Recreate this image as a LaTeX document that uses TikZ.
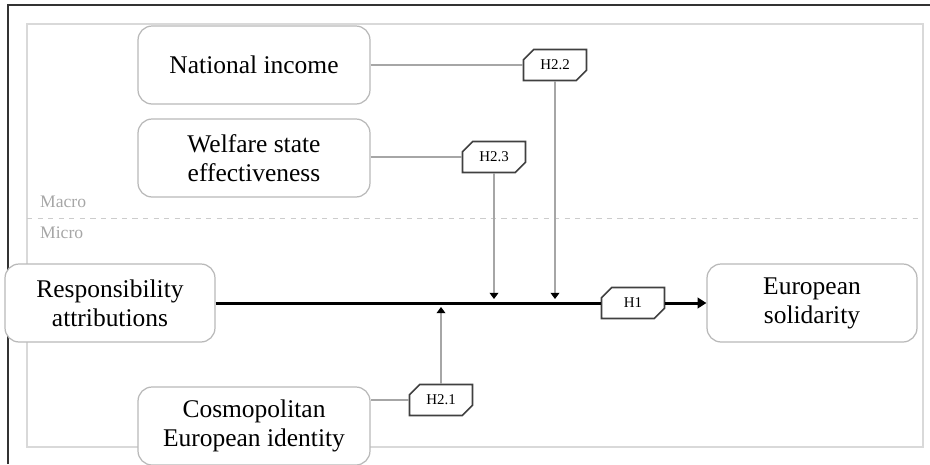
\documentclass[tikz,border=0pt]{standalone}
\usepackage{fontspec}
\setmainfont{Liberation Serif}
\usepackage{xcolor}
\usetikzlibrary{arrows.meta, positioning, shapes.misc, calc}

\begin{document}
\begin{tikzpicture}[
    x=0.02cm, y=-0.02cm,
    concept/.style={rectangle, rounded corners=8pt, draw=gray!55, line width=0.7pt, fill=white, minimum width=4.64cm, minimum height=1.56cm, align=center, font=\fontsize{14.5}{16.5}\selectfont},
    hyp/.style={chamfered rectangle, chamfered rectangle corners={south east, north west}, chamfered rectangle xsep=3pt, chamfered rectangle ysep=3pt, draw=black!75, line width=0.9pt, fill=white, minimum width=1.26cm, minimum height=0.62cm, inner sep=0pt, font=\fontsize{8.5}{10}\selectfont},
    link/.style={draw=gray!70, line width=0.6pt},
    tip/.style={-{Triangle[length=3.5pt, width=5pt, color=black]}},
    level/.style={text=gray!70, font=\fontsize{10}{12}\selectfont, anchor=west},
  ]

  \useasboundingbox (0,0) rectangle (930,464);

  % frames
  \draw[black!80, line width=1.2pt] (8,464) -- (8,5) -- (930,5);
  \draw[gray!30, line width=1.2pt] (27,24) rectangle (923,447);
  \draw[gray!40, dashed, line width=0.4pt] (27,218) -- (923,218);
  \node[level] (macro) at (34,202) {Macro};
  \node[level] (micro) at (34,233) {Micro};

  % concepts
  \node[concept] (income) at (254,65) {National income};
  \node[concept] (welfare) at (254,158) {Welfare state\\effectiveness};
  \node[concept, minimum width=4.2cm] (resp) at (110,303) {Responsibility\\attributions};
  \node[concept, minimum width=4.2cm] (soli) at (812,303) {European\\solidarity};
  \node[concept] (cosmo) at (254,426) {Cosmopolitan\\European identity};

  % hypotheses
  \node[hyp] (h22) at (555,65) {H2.2};
  \node[hyp] (h23) at (494,157) {H2.3};
  \node[hyp] (h1) at (633,303) {H1};
  \node[hyp] (h21) at (441,400) {H2.1};

  \coordinate (m21) at (h21.north |- resp.east);
  \coordinate (m23) at (h23.south |- resp.east);
  \coordinate (m22) at (h22.south |- resp.east);

  % main path
  \draw[line width=1.7pt] (resp.east) -- (h1.west);
  \draw[line width=1.7pt, -{Triangle[length=5pt, width=6pt]}] (h1.east) -- (soli.west);

  % moderators
  \draw[link] (income.east) -- (h22.west);
  \draw[link] (welfare.east |- h23.west) -- (h23.west);
  \draw[link] (cosmo.east |- h21.west) -- (h21.west);
  \draw[link, tip] (h22.south) -- ($(m22)+(0,-4)$);
  \draw[link, tip] (h23.south) -- ($(m23)+(0,-4)$);
  \draw[link, tip] (h21.north) -- ($(m21)+(0,4)$);

\end{tikzpicture}
\end{document}
